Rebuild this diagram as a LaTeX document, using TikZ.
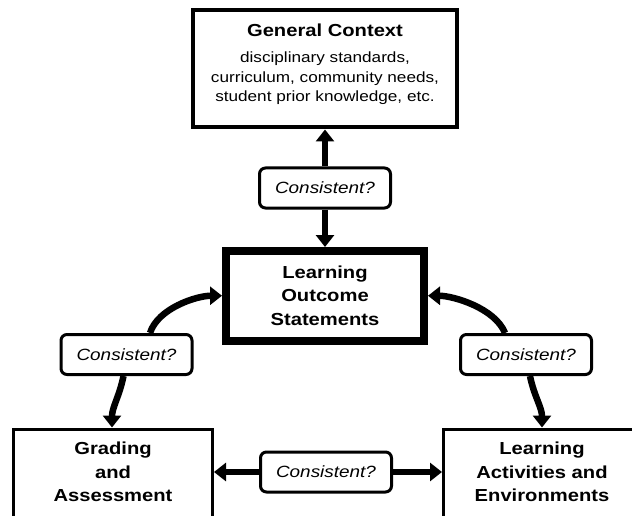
\documentclass[tikz,border=0pt]{standalone}
\usepackage{fontspec}
\setmainfont{Liberation Sans}[FakeStretch=1.16]
\usetikzlibrary{arrows.meta}
\begin{document}
\begin{tikzpicture}[x=1pt,y=-1pt,
  box/.style={draw, line width=3pt, inner sep=0pt, align=center},
  boldtxt/.style={align=center, inner sep=0pt, font=\fontsize{17.4}{23.5}\selectfont\bfseries},
  cbox/.style={draw, line width=3pt, rounded corners=6pt, minimum width=131pt, minimum height=40pt, inner sep=0pt, font=\fontsize{16.3}{19}\selectfont\itshape},
  arr/.style={line width=6.5pt, -{Triangle[length=12pt,width=18pt]}},
]
\useasboundingbox (0,0) rectangle (632,516);
\clip (0,0) rectangle (632,516);

% boxes
\node (gc) [box, line width=4pt, minimum width=264.5pt, minimum height=117pt] at (324.75,69) {};
\node (gct) [align=center, inner sep=0pt, font=\fontsize{14.8}{19.5}\selectfont] at (325,64.5)
  {{\fontsize{17.4}{19.5}\selectfont\bfseries General Context}\\[6.5pt]
   disciplinary standards,\\curriculum, community needs,\\student prior knowledge, etc.};
\node (los) [box, line width=8pt, minimum width=198pt, minimum height=89.5pt,
  font=\fontsize{17.4}{23.5}\selectfont\bfseries] at (325,295.75)
  {Learning\\Outcome\\Statements};
\node (grad) [box, minimum width=199pt, minimum height=130pt, anchor=north] at (113,427.5) {};
\node (gradt) [boldtxt] at (113,472) {Grading\\and\\Assessment};
\node (la) [box, minimum width=197pt, minimum height=130pt, anchor=north] at (542,427.5) {};
\node (lat) [boldtxt] at (542,472) {Learning\\Activities and\\Environments};

% consistency checks
\node (c1) [cbox] at (325,188) {Consistent?};
\node (c2) [cbox] at (126.5,354.5) {Consistent?};
\node (c3) [cbox] at (526,354.5) {Consistent?};
\node (c4) [cbox] at (326,472) {Consistent?};

% arrows
\draw[arr] (c1.north) -- (c1.north |- gc.south);
\draw[arr] (c1.south) -- (c1.south |- los.north);
\draw[arr] ([xshift=23.5pt]c2.north) .. controls +(8,-25) and +(-25,0) .. (los.west);
\draw[arr] ([xshift=-3pt]c2.south) .. controls +(-4,20) and +(0,-20) .. ([xshift=-1pt]grad.north);
\draw[arr] ([xshift=-21pt]c3.north) .. controls +(-10,-25) and +(25,0) .. (los.east);
\draw[arr] ([xshift=4pt]c3.south) .. controls +(4,20) and +(0,-20) .. (la.north);
\draw[arr] (c4.west) -- (c4.west -| grad.east);
\draw[arr] (c4.east) -- (c4.east -| la.west);
\end{tikzpicture}
\end{document}
